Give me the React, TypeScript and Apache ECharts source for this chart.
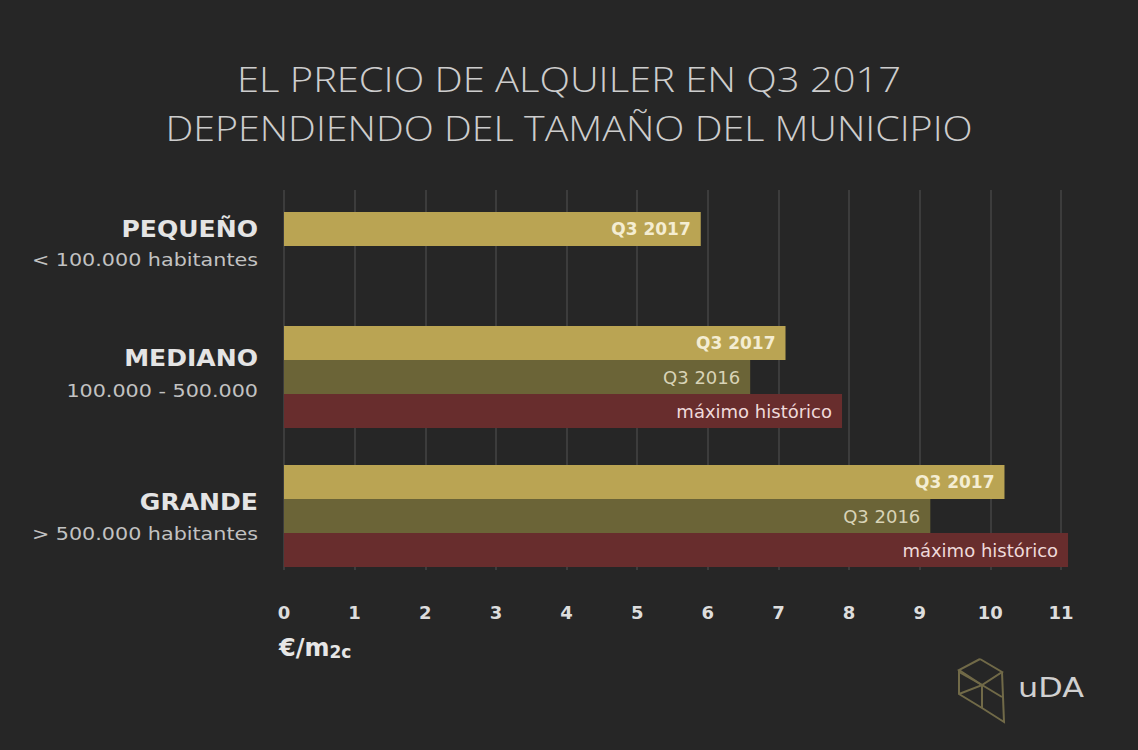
import React, { useEffect, useRef } from "react";
import * as echarts from "echarts";

const categories = ["PEQUEÑO", "MEDIANO", "GRANDE"];
const subtitles = ["< 100.000 habitantes", "100.000 - 500.000", "> 500.000 habitantes"];
const seriesNames = ["Q3 2017", "Q3 2016", "máximo histórico"];
const q3_2017 = [5.9, 7.1, 10.2];
const q3_2016: (number | null)[] = [null, 6.6, 9.15];
const maximoHistorico: (number | null)[] = [null, 7.9, 11.1];
const seriesValues = [q3_2017, q3_2016, maximoHistorico];
const axisMin = 0;
const axisMax = 11;
const axisInterval = 1;
const titleLines = ["EL PRECIO DE ALQUILER EN Q3 2017", "DEPENDIENDO DEL TAMAÑO DEL MUNICIPIO"];
const unitLabel = ["€/m", "2c"];
const brand = "uDA";

// layout
const BG = "#262626";
const barColors = ["#baa453", "#6b6437", "#682d2d"];
const labelColors = ["#f4edd2", "#d8d3b6", "#efdada"];
const labelWeights = ["bold", "normal", "normal"];
const labelSizes = [17, 18, 18];
const gridTops = [212, 326, 465];
const catLabelY = [229, 358, 502];
const subLabelY = [260, 391, 534];
const titleScale = [1.14, 1.125];
const OPEN = "Open Sans";
const DV = "DejaVu Sans";
const UNIT = 70.636;

export default function App() {
  const ref = useRef<HTMLDivElement>(null);
  useEffect(() => {
    if (!ref.current) return;
    const chart = echarts.init(ref.current, null, { renderer: "svg" });
    const left = 284;
    const barMax = 12;
    const grids: any[] = gridTops.map((t) => ({ left, width: UNIT * barMax, top: t, height: 102 }));
    grids.push({ left, width: UNIT * axisMax, top: 190, height: 380 });
    const xAxes: any[] = grids.map((_, i) => ({
      type: "value",
      gridIndex: i,
      min: axisMin,
      max: i === 3 ? axisMax : barMax,
      interval: axisInterval,
      show: i === 3,
      axisLine: { show: false },
      axisTick: { show: false },
      splitLine: { show: i === 3, lineStyle: { color: "#454545", width: 1.5 } },
      axisLabel: {
        color: "#dddddd",
        fontFamily: DV,
        fontSize: 18,
        fontWeight: "bold",
        margin: 33,
      },
    }));
    const yAxes: any[] = grids.map((_, i) => ({
      type: "category",
      gridIndex: i,
      inverse: true,
      show: false,
      data: i < 3 ? [categories[i]] : [""],
    }));
    const series: any[] = [];
    categories.forEach((_, ci) => {
      seriesNames.forEach((name, si) => {
        series.push({
          type: "bar",
          name,
          xAxisIndex: ci,
          yAxisIndex: ci,
          data: [seriesValues[si][ci]],
          barGap: "0%",
          barCategoryGap: "0%",
          itemStyle: { color: barColors[si] },
          label: {
            show: true,
            position: "insideRight",
            distance: 10,
            formatter: name,
            color: labelColors[si],
            fontFamily: DV,
            fontSize: labelSizes[si],
            fontWeight: labelWeights[si],
          },
        });
      });
    });
    const graphic: any[] = [];
    categories.forEach((c, i) => {
      graphic.push({
        type: "text",
        x: 258,
        y: catLabelY[i],
        scaleX: 1.09,
        style: {
          text: c,
          align: "right",
          verticalAlign: "middle",
          fill: "#e4e4e4",
          font: `bold 23px "${DV}"`,
        },
      });
      graphic.push({
        type: "text",
        x: 258,
        y: subLabelY[i],
        scaleX: 1.15,
        style: {
          text: subtitles[i],
          align: "right",
          verticalAlign: "middle",
          fill: "#c2c2c2",
          font: `18px "${DV}"`,
        },
      });
    });
    titleLines.forEach((t, i) => {
      graphic.push({
        type: "text",
        x: 569,
        y: 78 + i * 49,
        scaleX: titleScale[i],
        style: {
          text: t,
          align: "center",
          verticalAlign: "middle",
          fill: "#cdcdcd",
          font: `300 35px "${OPEN}"`,
        },
      });
    });
    graphic.push({
      type: "text",
      x: 279,
      y: 648,
      style: {
        text: `{a|${unitLabel[0]}}{b|${unitLabel[1]}}`,
        verticalAlign: "middle",
        rich: {
          a: { fontSize: 24, fontWeight: "bold", fill: "#e6e6e6", fontFamily: DV },
          b: { fontSize: 17, fontWeight: "bold", fill: "#e6e6e6", fontFamily: DV, padding: [7, 0, 0, 0] },
        },
      },
    });
    const logoStroke = { stroke: "#716a48", lineWidth: 2, fill: "none" };
    const logoLines = [
      [[980, 659], [959, 670], [982, 685], [1002, 672], [980, 659]],
      [[959, 670], [959, 694], [982, 708], [1004, 722], [1002, 672]],
      [[982, 685], [982, 708]],
      [[959, 694], [982, 685], [1002, 697]],
      [[959, 672], [982, 685]],
    ];
    logoLines.forEach((pts) =>
      graphic.push({ type: "polyline", shape: { points: pts }, style: logoStroke })
    );
    graphic.push({
      type: "text",
      x: 1018,
      y: 688,
      scaleX: 1.18,
      style: {
        text: brand,
        verticalAlign: "middle",
        fill: "#d0d0d0",
        font: `27px "${DV}"`,
      },
    });
    chart.setOption({
      animation: false,
      backgroundColor: BG,
      grid: grids,
      xAxis: xAxes,
      yAxis: yAxes,
      series,
      graphic,
    });
    return () => chart.dispose();
  }, []);
  return (
    <div
      ref={ref}
      style={{ position: "fixed", left: 0, top: 0, width: 1138, height: 750, background: BG }}
    />
  );
}
